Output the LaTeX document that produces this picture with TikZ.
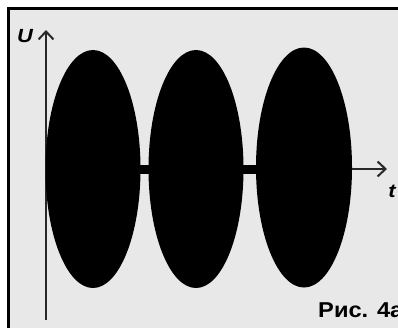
\documentclass[tikz,border=0pt]{standalone}
\usepackage{fontspec}
\setmainfont{Liberation Sans}
\usetikzlibrary{arrows.meta}
\definecolor{bggray}{RGB}{232,232,232}
\definecolor{axisgray}{RGB}{40,40,40}
\tikzset{
  lobe/.style={fill=black, draw=none},
  axisline/.style={draw=axisgray, line width=2.6pt},
  axisarrow/.style={axisline, -{Straight Barb[length=8pt,width=15pt,line width=2pt]}},
  lbl/.style={inner sep=0pt, font=\bfseries\itshape\fontsize{19}{19}\selectfont, xscale=1.15}
}
\begin{document}
\begin{tikzpicture}[x=1pt,y=-1pt]
\useasboundingbox (0,0) rectangle (398,327);
\clip (0,0) rectangle (398,327);
\fill[white] (0,0) rectangle (398,327);
\fill[bggray] (8.5,8.5) rectangle (420,340);
\draw[black, line width=3.2pt] (8.5,340) -- (8.5,8.5) -- (420,8.5);
% axes
\coordinate (ybot) at (46,320);
\coordinate (ytop) at (46,30);
\coordinate (xleft) at (46,169);
\coordinate (xright) at (387,169);
\draw[axisarrow] (ybot) -- (ytop);
\draw[axisarrow] (xleft) -- (xright);
% lobes
\fill[lobe] (93,169) ellipse [x radius=47.5, y radius=119];
\fill[lobe] (196,169) ellipse [x radius=47.5, y radius=119];
\fill[lobe] (304,167.5) ellipse [x radius=48, y radius=120];
\fill[lobe] (135,165) rectangle (262,173.5);
\node[lbl, anchor=center] (U) at (25,36) {U};
\node[lbl, anchor=center] (t) at (392,191) {t};
\node[inner sep=0pt, anchor=base west, xscale=1.1, font=\bfseries\fontsize{21.5}{21.5}\selectfont] (cap) at (318,317) {Рис. 4а};
\end{tikzpicture}
\end{document}
